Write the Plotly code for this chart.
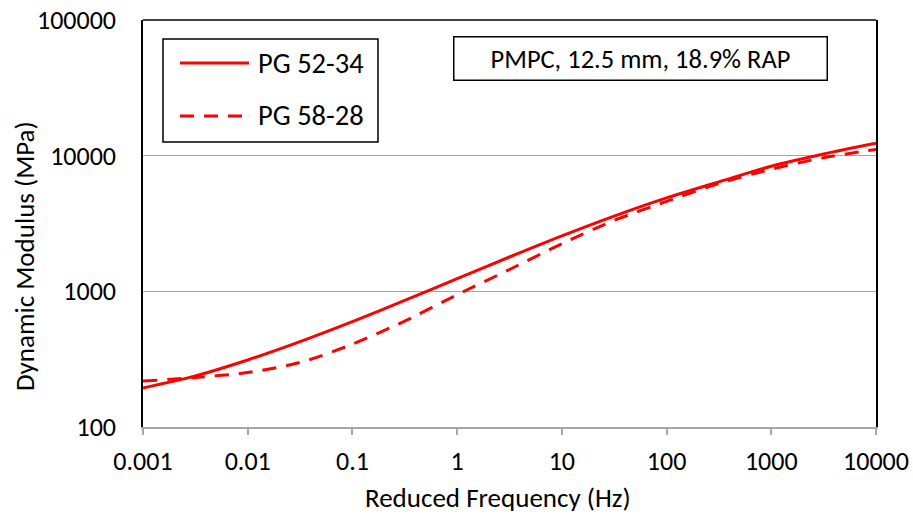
import plotly.graph_objects as go

# Reduced frequency (Hz) at which each master curve is tabulated
freq = [0.001, 0.00316, 0.01, 0.0316, 0.1, 0.316, 1, 3.16, 10, 31.6,
        100, 316, 1000, 3162, 10000]

# Dynamic modulus (MPa) for each binder grade
pg_52_34 = [194, 238, 312, 426, 598, 857, 1239, 1791, 2564, 3589,
            4887, 6412, 8356, 10280, 12330]
pg_58_28 = [218, 232, 252, 299, 408, 604, 944, 1449, 2244, 3334,
            4603, 6237, 7943, 9660, 11120]

series_names = ["PG 52-34", "PG 58-28"]

x_tick_vals = [0.001, 0.01, 0.1, 1, 10, 100, 1000, 10000]
x_tick_text = ["0.001", "0.01", "0.1", "1", "10", "100", "1000", "10000"]
y_tick_vals = [100, 1000, 10000, 100000]
y_tick_text = ["100", "1000", "10000", "100000"]

x_title = "Reduced Frequency (Hz)"
y_title = "Dynamic Modulus (MPa)"
mix_label = "PMPC, 12.5 mm, 18.9% RAP"

FONT = "Carlito, Lato, sans-serif"
RED = "#FF0000"
DASH = "14px,10px"

fig = go.Figure()
fig.add_trace(go.Scatter(x=freq, y=pg_52_34, mode="lines", name=series_names[0],
                         line=dict(color=RED, width=3, shape="spline", smoothing=0.8)))
fig.add_trace(go.Scatter(x=freq, y=pg_58_28, mode="lines", name=series_names[1],
                         line=dict(color=RED, width=3, dash=DASH, shape="spline", smoothing=0.8)))

fig.update_layout(
    width=913, height=521,
    margin=dict(l=143, r=37, t=20, b=94),
    paper_bgcolor="white", plot_bgcolor="white",
    showlegend=False,
    font=dict(family=FONT, size=26, color="black"),
)

fig.update_xaxes(
    type="log", range=[-3, 4], automargin=False,
    tickvals=x_tick_vals, ticktext=x_tick_text,
    ticks="outside", ticklen=6, tickcolor="#A6A6A6", tickwidth=1.5,
    showline=True, linecolor="#A6A6A6", linewidth=2,
    showgrid=False, zeroline=False,
    ticklabelstandoff=4,
)
fig.update_yaxes(
    type="log", range=[2, 5], automargin=False,
    tickvals=y_tick_vals, ticktext=y_tick_text,
    ticks="", showline=True, linecolor="black", linewidth=1.5, mirror=True,
    showgrid=True, gridcolor="#A6A6A6", gridwidth=1.2,
    zeroline=False, ticklabelstandoff=20,
)

# top edge of the plot frame
fig.add_shape(type="line", xref="paper", yref="paper", x0=0, x1=1, y0=1, y1=1,
              line=dict(color="black", width=1.5))

# helpers converting page pixels to paper fractions of the plot area
def px_x(p):
    return (p - 143) / 733

def px_y(p):
    return (427 - p) / 407

# axis titles
fig.add_annotation(text=x_title, xref="paper", yref="paper",
                   x=px_x(498), y=px_y(497), xanchor="center", yanchor="middle",
                   showarrow=False, font=dict(size=27))
fig.add_annotation(text=y_title, xref="paper", yref="paper", textangle=-90,
                   x=px_x(24), y=px_y(256), xanchor="center", yanchor="middle",
                   showarrow=False, font=dict(size=27))

# legend box drawn by hand so the line samples are long
fig.add_shape(type="rect", xref="paper", yref="paper",
              x0=px_x(163), x1=px_x(378), y0=px_y(142), y1=px_y(39),
              line=dict(color="black", width=1.5), fillcolor="white")
for name, dash, row in [(series_names[0], "solid", 63), (series_names[1], DASH, 116)]:
    fig.add_shape(type="line", xref="paper", yref="paper",
                  x0=px_x(180), x1=px_x(249), y0=px_y(row), y1=px_y(row),
                  line=dict(color=RED, width=3, dash=dash))
    fig.add_annotation(text=name, xref="paper", yref="paper",
                       x=px_x(256), y=px_y(row), xanchor="left", yanchor="middle",
                       showarrow=False, font=dict(size=28.5))

# mix description box
fig.add_annotation(text=mix_label, xref="paper", yref="paper",
                   x=px_x(640), y=px_y(58.5), xanchor="center", yanchor="middle",
                   showarrow=False, font=dict(size=26.5),
                   bordercolor="black", borderwidth=1.5, borderpad=0,
                   width=372, height=42, bgcolor="white")

fig.write_html("out.html")
